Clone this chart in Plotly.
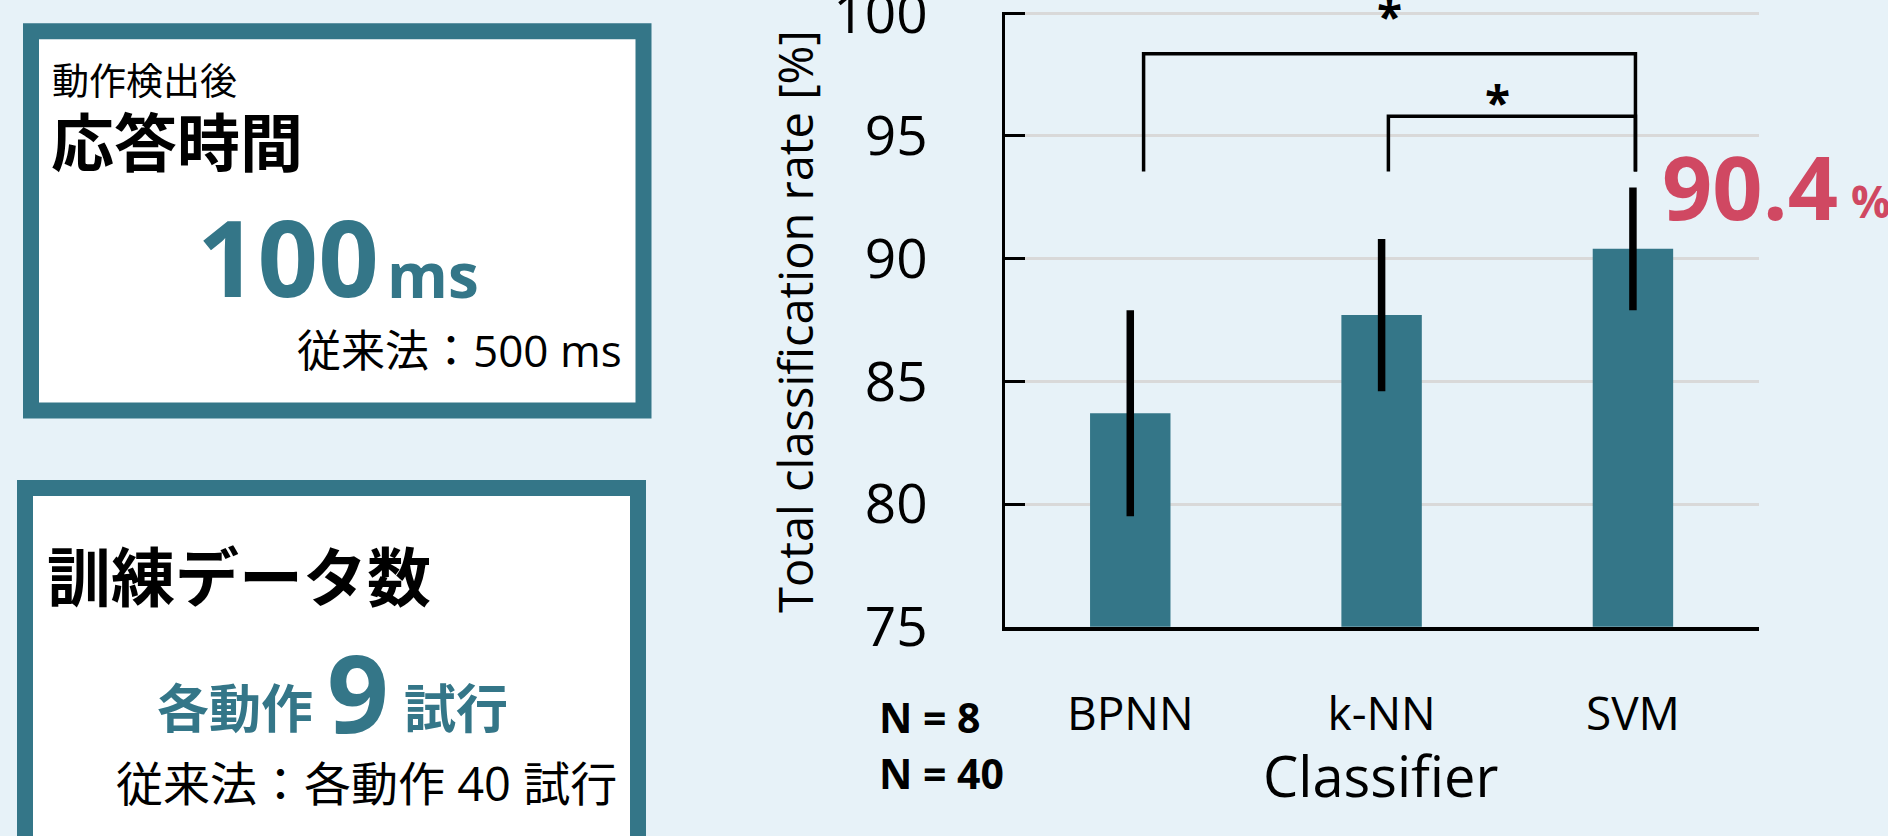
import plotly.graph_objects as go

W, H = 1888, 836

# ---------------- data ----------------
classifiers = ["BPNN", "k-NN", "SVM"]
rates = [83.7, 87.7, 90.4]
errors = [4.2, 3.1, 2.5]
y_ticks = [75, 80, 85, 90, 95, 100]
sig_pairs = [(0, 2), (1, 2)]
sig_tops = [98.35, 95.8]
sig_bottom = 93.55
sig_marks = ["*", "*"]
sig_mark_y = [99.9, 96.4]
sample_notes = ["N = 8", "N = 40"]

# ---------------- style ----------------
TEAL = "#347688"
PINK = "#d04862"
BG = "#e7f2f8"
GRID = "#d9d9d9"
FONT = "Open Sans, Noto Sans CJK JP"
leg_offset = {0: 0.053, 1: 0.027, 2: 0.01}
Y_TOP = 100.06          # slightly above last tick so its gridline is drawn
PX_PER_UNIT = (626.7 - 13.3) / 25.0


def px(x):
    return x / W


def py(y):
    return 1 - y / H


fig = go.Figure()
fig.add_trace(go.Bar(
    x=classifiers, y=rates, width=0.32,
    marker=dict(color=TEAL, line=dict(width=0)),
    error_y=dict(type="data", array=errors, visible=True,
                 thickness=7.5, width=0, color="black"),
))

shapes = []
annotations = []

# significance brackets
for (a, b), top, mark, my, shift in zip(sig_pairs, sig_tops, sig_marks, sig_mark_y, [0, -14]):
    xa = a + leg_offset[a]
    xb = b + leg_offset[b]
    shapes.append(dict(type="path", xref="x", yref="y",
                       path=f"M {xa},{sig_bottom} L {xa},{top} L {xb},{top} L {xb},{sig_bottom}",
                       line=dict(color="black", width=3.5)))
    annotations.append(dict(text=f"<b>{mark}</b>", x=(xa + xb) / 2, y=my, xref="x", yref="y",
                            xshift=shift, showarrow=False, font=dict(family=FONT, size=46, color="black"),
                            xanchor="center", yanchor="middle"))

# value label for best classifier
annotations.append(dict(text=f"<b>{rates[2]:.1f}</b>", x=px(1660), y=py(186), xref="paper", yref="paper",
                        showarrow=False, font=dict(family=FONT, size=88, color=PINK),
                        xanchor="left", yanchor="middle"))
annotations.append(dict(text="<b>%</b>", x=px(1849), y=py(201), xref="paper", yref="paper",
                        showarrow=False, font=dict(family=FONT, size=44, color=PINK),
                        xanchor="left", yanchor="middle"))

# axis titles
annotations.append(dict(text="Total classification rate [%]", x=px(795), y=py(322), xref="paper", yref="paper",
                        textangle=-90, showarrow=False, font=dict(family=FONT, size=47, color="black"),
                        xanchor="center", yanchor="middle"))
annotations.append(dict(text="Classifier", x=px(1380), y=py(775), xref="paper", yref="paper",
                        showarrow=False, font=dict(family=FONT, size=56, color="black"),
                        xanchor="center", yanchor="middle"))
for note, yy in zip(sample_notes, [717, 773]):
    annotations.append(dict(text=f"<b>{note}</b>", x=px(877), y=py(yy), xref="paper", yref="paper",
                            showarrow=False, font=dict(family=FONT, size=41, color="black"),
                            xanchor="left", yanchor="middle"))

# left info boxes
shapes.append(dict(type="rect", xref="paper", yref="paper", x0=px(31), x1=px(643.5), y0=py(31.3), y1=py(410.5),
                   fillcolor="white", line=dict(color=TEAL, width=16), layer="below"))
shapes.append(dict(type="rect", xref="paper", yref="paper", x0=px(25), x1=px(638), y0=py(488), y1=py(920),
                   fillcolor="white", line=dict(color=TEAL, width=16), layer="below"))


def txt(text, x, y, size, color="black", bold=False, xanchor="left"):
    t = f"<b>{text}</b>" if bold else text
    annotations.append(dict(text=t, x=px(x), y=py(y), xref="paper", yref="paper", showarrow=False,
                            font=dict(family=FONT, size=size, color=color),
                            xanchor=xanchor, yanchor="middle"))


txt("動作検出後", 50, 80, 37)
txt("応答時間", 49, 141, 63, bold=True)
txt("100", 195, 256, 106, color=TEAL, bold=True)
txt("ms", 385, 274, 62, color=TEAL, bold=True)
txt("従来法：500 ms", 624, 350, 44, xanchor="right")

txt("訓練データ数", 45, 576, 64, bold=True)
txt("各動作", 155, 707, 52, color=TEAL, bold=True)
txt("9", 325, 691, 108, color=TEAL, bold=True)
txt("試行", 402, 707, 52, color=TEAL, bold=True)
txt("従来法：各動作 40 試行", 114, 783, 47)

top_px = 13.3 - (Y_TOP - 100) * PX_PER_UNIT

fig.update_layout(
    width=W, height=H,
    margin=dict(l=0, r=0, t=0, b=0, autoexpand=False),
    paper_bgcolor=BG, plot_bgcolor=BG,
    showlegend=False,
    shapes=shapes, annotations=annotations,
    font=dict(family=FONT, color="black"),
    xaxis=dict(domain=[px(1004.6), px(1758.6)], type="category", range=[-0.5, 2.5],
               showline=True, linecolor="black", linewidth=4, ticks="", showgrid=False,
               tickfont=dict(family=FONT, size=46, color="black"), ticklabelstandoff=44,
               zeroline=False, fixedrange=True, automargin=False),
    yaxis=dict(domain=[py(626.7), py(top_px)], range=[75, Y_TOP], tickvals=y_ticks,
               showline=True, linecolor="black", linewidth=3, ticks="inside", ticklen=20,
               tickwidth=3, tickcolor="black", showgrid=True, gridcolor=GRID, gridwidth=2.5,
               tickfont=dict(family=FONT, size=55, color="black"), ticklabelstandoff=63,
               ticklabeloverflow="allow",
               zeroline=False, fixedrange=True, automargin=False),
)

fig.write_html("out.html", config={"displayModeBar": False},
               post_script="document.body.style.margin='0';document.body.style.overflow='hidden';")
